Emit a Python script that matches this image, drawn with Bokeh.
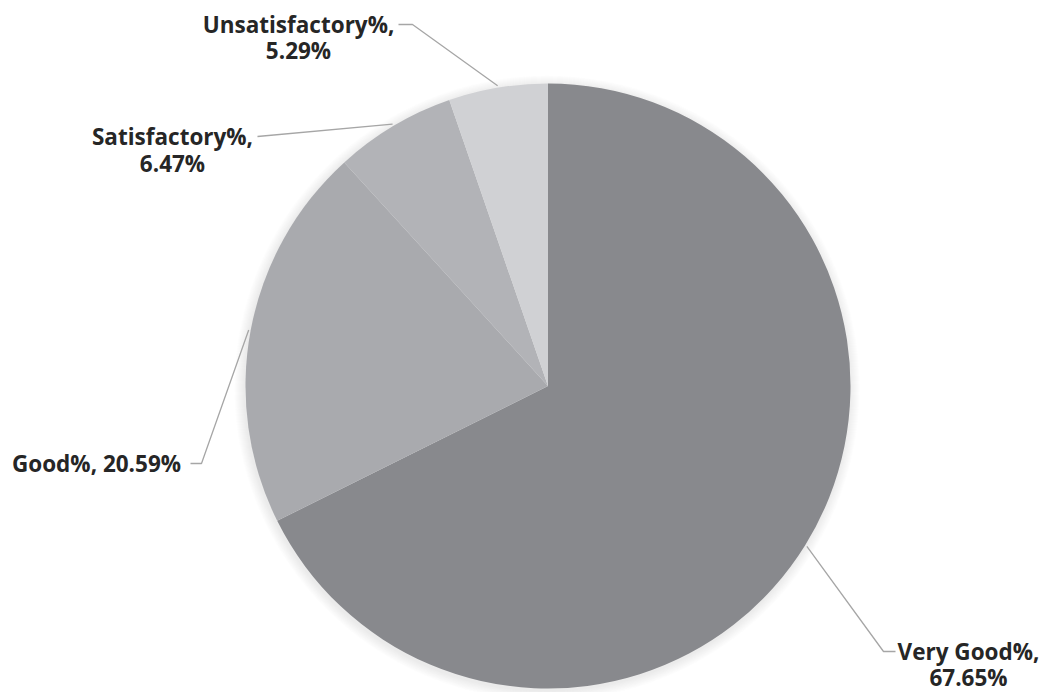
import math
from bokeh.plotting import figure
from bokeh.models import Range1d, ColumnDataSource
from bokeh.core.properties import value
from bokeh.embed import file_html
from bokeh.resources import INLINE

# ---- data ----
categories = ["Very Good%", "Good%", "Satisfactory%", "Unsatisfactory%"]
percents = [67.65, 20.59, 6.47, 5.29]
colors = ["#88898d", "#a9aaae", "#b2b3b7", "#d0d1d4"]

W, H = 1047, 692
p = figure(width=W, height=H, output_backend="svg", toolbar_location=None,
           x_range=Range1d(0, W), y_range=Range1d(0, H), min_border=0)
p.axis.visible = False
p.grid.visible = False
p.outline_line_color = None
p.background_fill_color = "white"
p.border_fill_color = "white"

def sx(x):
    return x

def sy(y):
    return H - y

cx, cy, r = sx(547.5), sy(385.5), 302.5

# soft shadow
for k in range(1, 11):
    p.circle(x=[cx - 1], y=[cy - 2], radius=r + k, fill_color="#808080",
             fill_alpha=0.018, line_color=None)

total = sum(percents)
starts, ends, mids = [], [], []
cum = 0.0
for v in percents:
    a0 = math.pi / 2 - 2 * math.pi * cum / total
    cum += v
    a1 = math.pi / 2 - 2 * math.pi * cum / total
    starts.append(a0)
    ends.append(a1)
    mids.append((a0 + a1) / 2)

src = ColumnDataSource(dict(start=starts, end=ends, color=colors))
p.wedge(x=cx, y=cy, radius=r, start_angle="start", end_angle="end",
        direction="clock", fill_color="color", line_color=None, source=src)

# leader lines (edge point from slice mid-angle)
def edge(i, off=0):
    return (cx + (r + off) * math.cos(mids[i]), cy + (r + off) * math.sin(mids[i]))

lc = "#a6a6a6"
ex, ey = edge(0, 2)
p.line([ex, sx(883), sx(895)], [ey, sy(651), sy(651)], line_color=lc, line_width=1.3)
ex, ey = edge(1, 2)
p.line([sx(190), sx(201), ex], [sy(463), sy(463), ey], line_color=lc, line_width=1.3)
ex, ey = edge(2, 2)
p.line([sx(257), ex], [sy(136), ey], line_color=lc, line_width=1.3)
ex, ey = edge(3, 2)
p.line([sx(398), sx(412), ex], [sy(24), sy(24), ey], line_color=lc, line_width=1.3)

labels = [f"{c}, {v:.2f}%" for c, v in zip(categories, percents)]
font = value("Open Sans")
ts = "22.5px"
tc = "#262626"

def txt(x, y, s, align):
    p.text(x=[sx(x)], y=[sy(y)], text=[s], text_font=font, text_font_size=ts,
           text_font_style="bold", text_color=tc, text_align=align,
           text_baseline="middle")

# Very Good
txt(968, 651, categories[0] + ",", "center")
txt(968, 677, f"{percents[0]:.2f}%", "center")
# Good
txt(96, 463, labels[1], "center")
# Satisfactory
txt(172, 136, categories[2] + ",", "center")
txt(172, 163, f"{percents[2]:.2f}%", "center")
# Unsatisfactory
txt(298, 24, categories[3] + ",", "center")
txt(298, 50, f"{percents[3]:.2f}%", "center")

open("out.html", "w").write(file_html(p, INLINE))
